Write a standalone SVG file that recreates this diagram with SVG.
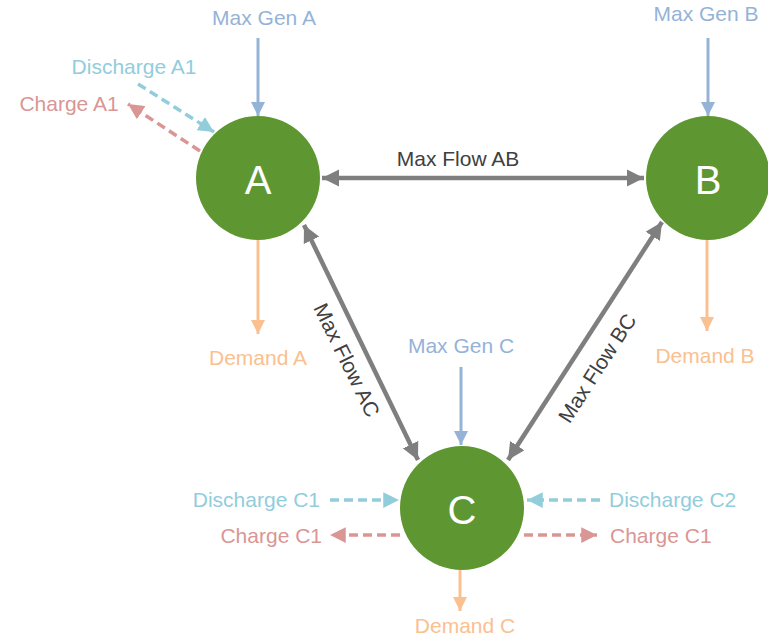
<svg xmlns="http://www.w3.org/2000/svg" width="768" height="636" viewBox="0 0 768 636">
<style>
text{font-family:"Liberation Sans",Arial,sans-serif;font-size:21px}
.node circle{fill:#5E9732}
.node text{fill:#fff;font-size:40px;text-anchor:middle;dominant-baseline:central}
.gen{stroke:#95B3D7;stroke-width:3;fill:none}
.dem{stroke:#FAC090;stroke-width:3;fill:none}
.dis{stroke:#92CDDC;stroke-width:3.5;fill:none;stroke-dasharray:9 5}
.chg{stroke:#DA9694;stroke-width:3.5;fill:none;stroke-dasharray:9 5}
.flow{stroke:#7F7F7F;stroke-width:4.5;fill:none}
.tgen{fill:#95B3D7}.tdem{fill:#FAC090}.tdis{fill:#92CDDC}.tchg{fill:#DA9694}.tflow{fill:#404040}
</style>
<defs>
<marker id="mGen" viewBox="0 0 10 10" refX="10" refY="5" markerWidth="4.8" markerHeight="4.8" orient="auto-start-reverse"><path d="M0,0L10,5L0,10z" fill="#95B3D7"/></marker>
<marker id="mDem" viewBox="0 0 10 10" refX="10" refY="5" markerWidth="4.8" markerHeight="4.8" orient="auto-start-reverse"><path d="M0,0L10,5L0,10z" fill="#FAC090"/></marker>
<marker id="mDis" viewBox="0 0 10 10" refX="10" refY="5" markerWidth="4.5" markerHeight="4.5" orient="auto-start-reverse"><path d="M0,0L10,5L0,10z" fill="#92CDDC"/></marker>
<marker id="mChg" viewBox="0 0 10 10" refX="10" refY="5" markerWidth="4.5" markerHeight="4.5" orient="auto-start-reverse"><path d="M0,0L10,5L0,10z" fill="#DA9694"/></marker>
<marker id="mFlow" viewBox="0 0 10 10" refX="10" refY="5" markerWidth="3.8" markerHeight="3.8" orient="auto-start-reverse"><path d="M0,0L10,5L0,10z" fill="#7F7F7F"/></marker>
</defs>
<g id="connectors">
<line class="gen" x1="258" y1="38" x2="258" y2="116" marker-end="url(#mGen)"/>
<line class="gen" x1="708" y1="38" x2="708" y2="116" marker-end="url(#mGen)"/>
<line class="gen" x1="461" y1="367" x2="461" y2="445" marker-end="url(#mGen)"/>
<line class="dem" x1="258" y1="240" x2="258" y2="334" marker-end="url(#mDem)"/>
<line class="dem" x1="707" y1="240" x2="707" y2="331" marker-end="url(#mDem)"/>
<line class="dem" x1="460" y1="570" x2="460" y2="611" marker-end="url(#mDem)"/>
<line class="dis" x1="138" y1="84" x2="214" y2="132" marker-end="url(#mDis)"/>
<line class="chg" x1="200" y1="151" x2="128" y2="104" marker-end="url(#mChg)"/>
<line class="dis" x1="330" y1="500" x2="399" y2="500" marker-end="url(#mDis)"/>
<line class="chg" x1="400" y1="535" x2="330" y2="535" marker-end="url(#mChg)"/>
<line class="dis" x1="600" y1="500" x2="527" y2="500" marker-end="url(#mDis)"/>
<line class="chg" x1="524" y1="535" x2="597" y2="535" marker-end="url(#mChg)"/>
<line class="flow" x1="322" y1="178" x2="644" y2="178" marker-start="url(#mFlow)" marker-end="url(#mFlow)"/>
<line class="flow" x1="304" y1="225" x2="418" y2="460" marker-start="url(#mFlow)" marker-end="url(#mFlow)"/>
<line class="flow" x1="662" y1="222" x2="508" y2="460" marker-start="url(#mFlow)" marker-end="url(#mFlow)"/>
</g>
<g id="labels">
<text class="tgen" x="264" y="25" text-anchor="middle">Max Gen A</text>
<text class="tgen" x="706" y="21" text-anchor="middle">Max Gen B</text>
<text class="tgen" x="461" y="353" text-anchor="middle">Max Gen C</text>
<text class="tdem" x="258" y="365" text-anchor="middle">Demand A</text>
<text class="tdem" x="705" y="363" text-anchor="middle">Demand B</text>
<text class="tdem" x="465" y="633" text-anchor="middle">Demand C</text>
<text class="tdis" x="134" y="74" text-anchor="middle">Discharge A1</text>
<text class="tchg" x="69" y="111" text-anchor="middle">Charge A1</text>
<text class="tdis" x="320" y="507" text-anchor="end">Discharge C1</text>
<text class="tchg" x="322" y="543" text-anchor="end">Charge C1</text>
<text class="tdis" x="609" y="507">Discharge C2</text>
<text class="tchg" x="610" y="543">Charge C1</text>
<text class="tflow" x="458" y="166" text-anchor="middle">Max Flow AB</text>
<text class="tflow" text-anchor="middle" dominant-baseline="central" transform="translate(347,360) rotate(63.9)">Max Flow AC</text>
<text class="tflow" text-anchor="middle" dominant-baseline="central" transform="translate(597,368) rotate(-57.1)">Max Flow BC</text>
</g>
<g id="nodeA" class="node"><circle cx="258" cy="178" r="62"/><text x="258" y="180">A</text></g>
<g id="nodeB" class="node"><circle cx="708" cy="178" r="62"/><text x="708" y="180">B</text></g>
<g id="nodeC" class="node"><circle cx="462" cy="508" r="62"/><text x="462" y="510">C</text></g>
</svg>
